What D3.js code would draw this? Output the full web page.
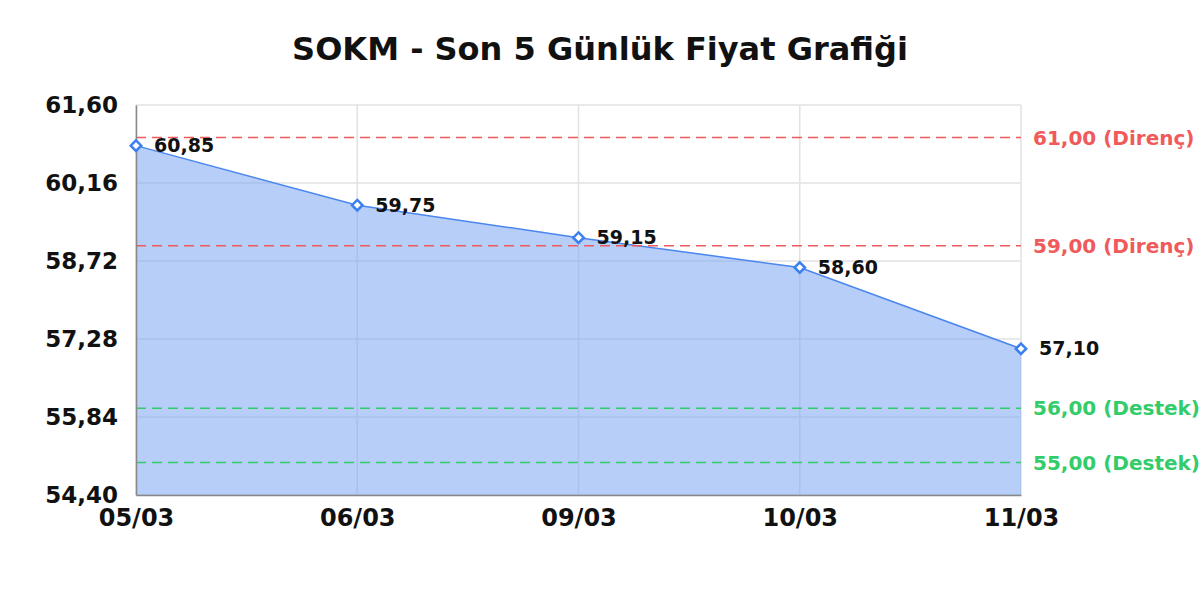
<!DOCTYPE html>
<html>
<head>
<meta charset="utf-8">
<script src="https://cdn.jsdelivr.net/npm/d3@7"></script>
<style>
  body { margin: 0; background: #fff; }
  text { font-family: "DejaVu Sans", sans-serif; font-weight: bold; }
</style>
</head>
<body>
<div id="chart"></div>
<script>
"use strict";

// chart data
var dates = ["05/03", "06/03", "09/03", "10/03", "11/03"];
var prices = [60.85, 59.75, 59.15, 58.60, 57.10];
var yTicks = [54.40, 55.84, 57.28, 58.72, 60.16, 61.60];
var resistance = [61.00, 59.00];
var support = [56.00, 55.00];

var W = 1200, H = 600;
var margin = { top: 105, right: 179, bottom: 105, left: 136 };
var w = W - margin.left - margin.right;
var h = H - margin.top - margin.bottom;

var fmt = function(v) { return v.toFixed(2).replace(".", ","); };

var x = d3.scalePoint().domain(dates).range([0, w]);
var y = d3.scaleLinear().domain([54.40, 61.60]).range([h, 0]);

var svg = d3.select("#chart")
  .append("svg")
    .attr("width", W)
    .attr("height", H);

// title
svg.append("text")
  .attr("x", W / 2)
  .attr("y", 60)
  .attr("text-anchor", "middle")
  .style("font-size", "32px")
  .attr("fill", "#111")
  .text("SOKM - Son 5 Günlük Fiyat Grafiği");

var g = svg.append("g")
  .attr("transform", "translate(" + margin.left + "," + margin.top + ")");

// grid
g.append("g").selectAll("line").data(yTicks)
  .join("line")
    .attr("x1", 0).attr("x2", w)
    .attr("y1", d => y(d)).attr("y2", d => y(d))
    .attr("stroke", "#e2e2e2").attr("stroke-width", 1.5);

g.append("g").selectAll("line").data(dates)
  .join("line")
    .attr("x1", d => x(d)).attr("x2", d => x(d))
    .attr("y1", 0).attr("y2", h)
    .attr("stroke", "#e2e2e2").attr("stroke-width", 1.5);

// area + line
var area = d3.area()
  .x((d, i) => x(dates[i]))
  .y0(h)
  .y1(d => y(d));

var line = d3.line()
  .x((d, i) => x(dates[i]))
  .y(d => y(d));

g.append("path")
  .datum(prices)
  .attr("d", area)
  .attr("fill", "#7aa5f3")
  .attr("fill-opacity", 0.55);

g.append("path")
  .datum(prices)
  .attr("d", line)
  .attr("fill", "none")
  .attr("stroke", "#4a86ee")
  .attr("stroke-width", 1.5);

// support / resistance lines
function refLines(vals, color, name) {
  var grp = g.append("g");
  grp.selectAll("line").data(vals)
    .join("line")
      .attr("x1", 0).attr("x2", w)
      .attr("y1", d => y(d)).attr("y2", d => y(d))
      .attr("stroke", color)
      .attr("stroke-width", 1.5)
      .attr("stroke-dasharray", "10,6");
  grp.selectAll("text").data(vals)
    .join("text")
      .attr("x", w + 12)
      .attr("y", d => y(d))
      .attr("dy", "0.35em")
      .style("font-size", "20px")
      .attr("fill", color)
      .text(d => fmt(d) + " (" + name + ")");
}
refLines(resistance, "#f05a5a", "Direnç");
refLines(support, "#33cc6b", "Destek");

// axes
var yAxis = d3.axisLeft(y).tickValues(yTicks).tickFormat(fmt).tickSize(0).tickPadding(18);
var xAxis = d3.axisBottom(x).tickSize(0).tickPadding(14);

var ya = g.append("g").call(yAxis);
ya.select(".domain").attr("stroke", "#888").attr("stroke-width", 1.5);
ya.selectAll("text").style("font-size", "23px").attr("fill", "#111").attr("font-family", null);

var xa = g.append("g").attr("transform", "translate(0," + h + ")").call(xAxis);
xa.select(".domain").attr("stroke", "#888").attr("stroke-width", 1.5);
xa.selectAll("text").style("font-size", "24px").attr("fill", "#111").attr("font-family", null);

// markers
var diamond = d3.symbol().type(d3.symbolDiamond2).size(70);
g.append("g").selectAll("path").data(prices)
  .join("path")
    .attr("d", diamond)
    .attr("transform", (d, i) => "translate(" + x(dates[i]) + "," + y(d) + ")")
    .attr("fill", "#fff")
    .attr("stroke", "#3b7ff0")
    .attr("stroke-width", 2.5);

// value labels
g.append("g").selectAll("text").data(prices)
  .join("text")
    .attr("x", (d, i) => x(dates[i]) + 18)
    .attr("y", d => y(d))
    .attr("dy", "0.35em")
    .style("font-size", "19px")
    .attr("fill", "#111")
    .text(d => fmt(d));
</script>
</body>
</html>
